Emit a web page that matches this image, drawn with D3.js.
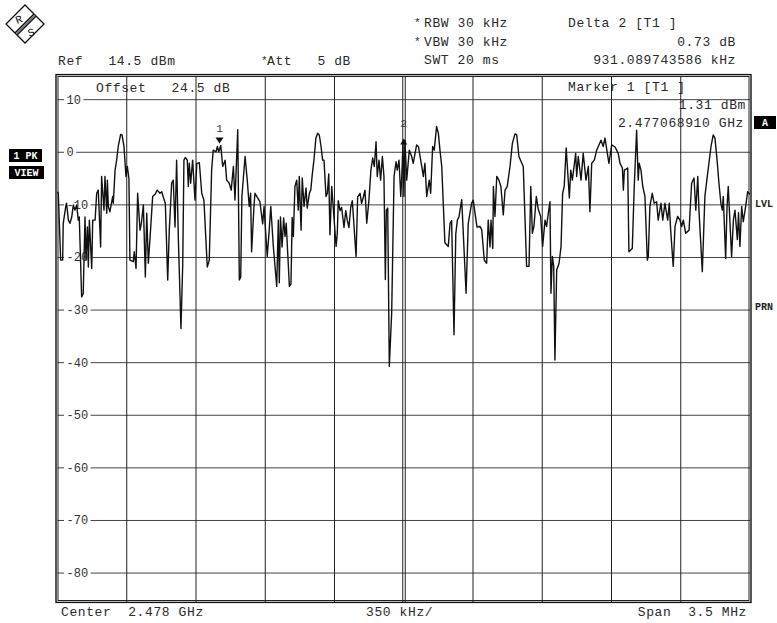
<!DOCTYPE html>
<html><head><meta charset="utf-8">
<script src="https://cdn.jsdelivr.net/npm/d3@7"></script>
<style>
html,body{margin:0;padding:0;background:#fff;}
svg text{font-family:"Liberation Mono","DejaVu Sans Mono",monospace;}
</style></head>
<body>
<svg id="c" width="777" height="623"></svg>
<script>
// ---- data (frequency offset from span start in kHz, level in dBm) ----
const centerGHz = 2.478;
const spanMHz = 3.5;
const refLevel = 14.5;
const yTicks = [10, 0, -10, -20, -30, -40, -50, -60, -70, -80];
const traceFreqKHz = [0,4,16,26,29,43,46,55,63,72,80,88,97,105,110,122,130,139,144,151,156,161,173,178,190,198,206,218,223,235,240,249,252,257,265,279,282,291,299,307,319,326,336,346,353,361,366,383,388,397,405,417,424,434,444,451,459,467,481,493,504,518,527,535,545,557,565,577,585,594,602,611,624,633,639,646,656,661,666,673,683,695,704,717,729,740,757,767,779,787,801,808,815,825,835,847,855,868,878,889,897,911,919,926,932,948,959,969,976,981,993,998,1007,1023,1037,1044,1060,1070,1078,1091,1108,1116,1121,1127,1135,1143,1150,1156,1172,1180,1186,1192,1200,1209,1217,1222,1231,1237,1246,1256,1262,1273,1280,1288,1296,1306,1315,1323,1332,1340,1347,1357,1364,1371,1377,1386,1408,1414,1419,1428,1436,1448,1457,1465,1473,1482,1490,1509,1517,1529,1537,1546,1554,1563,1574,1584,1593,1601,1610,1616,1625,1633,1642,1650,1657,1662,1669,1677,1689,1701,1711,1717,1726,1735,1740,1746,1751,1756,1765,1778,1790,1798,1815,1824,1841,1849,1857,1866,1879,1886,1896,1904,1916,1925,1933,1942,1958,1975,1984,1992,2004,2013,2021,2029,2043,2065,2076,2093,2101,2120,2135,2144,2157,2169,2177,2186,2191,2200,2203,2211,2220,2231,2241,2253,2262,2273,2287,2299,2312,2321,2332,2354,2371,2383,2392,2400,2408,2420,2430,2442,2452,2464,2472,2481,2489,2494,2501,2508,2514,2523,2535,2545,2553,2561,2571,2587,2594,2602,2619,2624,2632,2646,2657,2671,2683,2691,2700,2713,2725,2747,2758,2767,2787,2801,2818,2834,2843,2855,2860,2865,2882,2888,2905,2915,2927,2935,2940,2949,2958,2969,2981,2986,2994,3006,3016,3028,3036,3050,3059,3070,3084,3092,3099,3112,3121,3134,3146,3155,3163,3175,3192,3205,3217,3226,3236,3242,3259,3272,3286,3303,3314,3323,3335,3343,3353,3360,3365,3377,3384,3390,3407,3416,3424,3436,3442,3449,3458,3466,3478,3488,3500];
const traceLevelDBm = [-7.5,-7.8,-20.5,-20.5,-13.5,-10,-9.7,-12.9,-13.5,-12.3,-10,-11,-10,-12.9,-12.3,-27.5,-26.9,-12.3,-20.5,-14.2,-21.8,-12.9,-22.1,-12.9,-12.9,-7.8,-7.2,-18,-4.6,-11,-4.6,-11.6,-5.3,-10.3,-11.3,-8.4,-9.7,-3.4,-1.5,1.1,3.4,3.3,1.1,-4.6,-2.7,-5,-20.5,-20.8,-18.9,-22.1,-7.8,-14.8,-13.5,-10,-23.7,-11.6,-21.1,-16.7,-8.4,-8,-7.2,-7.8,-7.5,-8.6,-9.7,-24.3,-14.8,-5.9,-5.3,-14.2,-1.5,-16.7,-33.5,-21.1,-1.5,-1,-1.5,-6.5,-2.1,-5.9,-1.5,-9.1,-2.1,-2,-7.8,-9.1,-21.8,-20.5,-3.4,0.4,0.1,1.1,0.1,1.3,-2.7,-1.5,-5.3,-5.9,-7.2,-2.7,-9.1,4.3,-24.3,-23.7,-8.4,-0.8,-5.3,-10.3,-7.8,-18.9,-10.3,-7.8,-8.4,-9.4,-13.6,-10.3,-19.8,-14.8,-10.3,-18,-25.5,-12.9,-24.8,-12.3,-18,-12.5,-16,-13.5,-25.5,-25,-12.4,-16,-6.5,-5.3,-11,-4.6,-14.8,-4.9,-10.3,-6.8,-10.6,-7.8,-7.2,-4.1,-1.5,2.7,3.6,3.3,1.1,-1.5,-1.5,-8.4,-7.8,-4.1,-15.7,-6.5,-17.9,-15.5,-9.2,-11.1,-10.5,-14.3,-11.1,-13,-14.3,-10.5,-9.2,-19.8,-8.5,-7.8,-9.7,-8.5,-7.2,-13.5,-9.1,-3.4,-1.1,-2.7,2,-4.6,-1.5,-5.3,-0.8,-4.6,-24.2,-11,-10.6,-40.7,-30.5,-4.6,-1.8,-3.4,-1.5,-8.4,-4.6,1.7,-8.4,2.3,-5.3,0.4,-0.8,-2.1,1.4,1.1,-2.7,-4.6,-2.1,-8.4,-5.3,-7.8,1.1,0.4,4.9,3.6,0.4,-2.7,-17.2,-17.9,-13.5,-13,-34.7,-15.5,-12.9,-12.3,-9,-26.8,-13.5,-9.7,-9.1,-14.2,-14.1,-14.7,-20.5,-21.1,-12.9,-18,-12.9,-18.3,-6.5,-12.2,-4.6,-5.3,-6.5,-11.9,-7.2,-6.5,-2.7,1.7,3.5,3.3,-0.8,-2.7,-21.7,-21.7,-6.5,-15.4,-14.1,-8.4,-10.9,-12.2,-17.9,-12.9,-14.1,-11.5,-9.4,-26.8,-19.8,-21.7,-39.5,-22.4,-21.1,-17.9,-7.8,-6.5,0.8,-8.7,-3.4,-5.3,-0.2,-4.6,-0.8,-5.3,-0.2,-5.3,-2.7,-11.3,-2.1,-1.5,0.4,2.3,1.1,2.7,-2.1,1.4,1.0,-0.2,-2.1,-3,-7.2,-3.4,-3,-18.9,-18.3,-6.5,4.2,-5.3,-2.1,-3.4,-6.5,-8.4,-20.5,-19.8,-10.3,-7.8,-9.7,-9.4,-12.9,-9.7,-12.9,-9.7,-12.9,-9.7,-14.8,-21.7,-14.1,-12.2,-12.9,-14.1,-12.9,-15.4,-14.8,-5.9,-4.9,-11,-4.6,-11,-22.7,-8.4,-4,1.1,3.3,2.7,-2.1,-5.9,-9.7,-11,-8.4,-20.2,-10.3,-6.5,-19.8,-12.9,-11,-16.6,-11.5,-17.9,-10.3,-13.2,-10.3,-7.5,-8];
const markerFreqKHz = [818.91, 1749.999];
const markerLevelDBm = [1.31, 2.04];
const markerNames = ["1", "2"];

const svg = d3.select("#c");
const L = 57.5, R = 750, T = 76, B = 602;
const x = d3.scaleLinear().domain([0, spanMHz * 1000]).range([L, R]);
const y = d3.scaleLinear().domain([refLevel - 100, refLevel]).range([B, T]);

// Logo
const logo = svg.append("g").attr("transform", "translate(25,24)");
logo.append("path").attr("d", "M0,-19L19,0L0,19L-19,0Z").attr("fill", "#fff").attr("stroke", "#111").attr("stroke-width", 1.3);
logo.append("path").attr("d", "M-10,9L9,-10M-8,11L11,-8").attr("stroke", "#111").attr("stroke-width", 1.6);
logo.append("path").attr("d", "M-9,10L10,-9").attr("stroke", "#777").attr("stroke-width", 1.2);
logo.append("text").attr("x", -6).attr("y", -1).attr("font-size", 11).attr("text-anchor", "middle").attr("transform", "rotate(-20,-6,-4)").attr("fill", "#111").text("R");
logo.append("text").attr("x", 6).attr("y", 12).attr("font-size", 11).attr("text-anchor", "middle").attr("transform", "rotate(-20,6,8)").attr("fill", "#111").text("S");

// header texts
function txt(xp, yp, s, opts = {}) {
  return svg.append("text").attr("x", xp).attr("y", yp).attr("font-size", opts.size || 13)
    .attr("letter-spacing", opts.ls !== undefined ? opts.ls : 0.6)
    .attr("text-anchor", opts.anchor || "start").attr("fill", opts.fill || "#2a2a2a")
    .attr("font-weight", opts.weight || "normal").style("white-space", "pre").text(s);
}
function star(xp, yp) { txt(xp, yp, "*", { size: 11, ls: 0 }); }
txt(58, 65, "Ref   14.5 dBm");
star(261, 64); txt(267, 65, "Att   5 dB");
star(414, 26); txt(424, 27, "RBW 30 kHz");
star(414, 45); txt(424, 46, "VBW 30 kHz");
txt(424, 64, "SWT 20 ms");
txt(568, 27, "Delta 2 [T1 ]");
txt(736, 46, "0.73 dB", { anchor: "end" });
txt(736, 64, "931.089743586 kHz", { anchor: "end" });

// grid
const g = svg.append("g");
yTicks.forEach(v => {
  g.append("line").attr("x1", L).attr("x2", R).attr("y1", y(v)).attr("y2", y(v)).attr("stroke", "#444").attr("stroke-width", 1);
});
for (let i = 1; i < 10; i++) {
  const xv = x(i * 350);
  if (i === 5) {
    g.append("line").attr("x1", xv - 1).attr("x2", xv - 1).attr("y1", T).attr("y2", B).attr("stroke", "#222");
    g.append("line").attr("x1", xv + 1.5).attr("x2", xv + 1.5).attr("y1", T).attr("y2", B).attr("stroke", "#222");
  } else {
    g.append("line").attr("x1", xv).attr("x2", xv).attr("y1", T).attr("y2", B).attr("stroke", "#222");
  }
}
// y tick labels with white background
yTicks.forEach(v => {
  const s = v < 0 ? "-" + Math.abs(v) : String(v);
  const w = s.length * 7.2;
  g.append("rect").attr("x", 64).attr("y", y(v) - 5).attr("width", w + 5).attr("height", 10).attr("fill", "#fff");
  g.append("text").attr("x", 66.5).attr("y", y(v) + 4).attr("font-size", 12).attr("fill", "#333").text(s);
});
// in-plot texts
txt(96, 92, "Offset   24.5 dB");
txt(568, 91, "Marker 1 [T1 ]");
txt(746, 109, "1.31 dBm", { anchor: "end" });
txt(744, 127, "2.477068910 GHz", { anchor: "end" });

// borders
svg.append("rect").attr("x", 58).attr("y", 76.5).attr("width", 691).attr("height", 524).attr("fill", "none").attr("stroke", "#222").attr("stroke-width", 1);
svg.append("rect").attr("x", 56).attr("y", 74.6).attr("width", 695).attr("height", 527.8).attr("fill", "none").attr("stroke", "#111").attr("stroke-width", 1.4);

// trace
const pts = traceFreqKHz.map((f, i) => [f, traceLevelDBm[i]]);
const line = d3.line().x(d => x(d[0])).y(d => y(d[1]));
svg.append("path").datum(pts).attr("d", line).attr("fill", "none").attr("stroke", "#111").attr("stroke-width", 1.4).attr("stroke-linejoin", "round");

// markers
markerFreqKHz.forEach((f, i) => {
  const mx = x(f), my = y(markerLevelDBm[i]);
  if (i === 0) {
    svg.append("path").attr("d", `M${mx - 4},${my - 8}L${mx + 4},${my - 8}L${mx},${my - 2}Z`).attr("fill", "#111");
    svg.append("text").attr("x", mx).attr("y", my - 13).attr("font-size", 11).attr("text-anchor", "middle").attr("fill", "#333").text(markerNames[i]);
  } else {
    svg.append("path").attr("d", `M${mx - 3.5},${my + 3}L${mx + 3.5},${my + 3}L${mx},${my - 3}Z`).attr("fill", "#111");
    svg.append("text").attr("x", mx).attr("y", my - 15).attr("font-size", 11).attr("text-anchor", "middle").attr("fill", "#333").text(markerNames[i]);
  }
});

// side boxes
function box(bx, by, bw, bh, s) {
  svg.append("rect").attr("x", bx).attr("y", by).attr("width", bw).attr("height", bh).attr("fill", "#000");
  svg.append("text").attr("x", bx + bw / 2).attr("y", by + bh - 3.5).attr("font-size", 10).attr("font-weight", "bold")
    .attr("text-anchor", "middle").attr("fill", "#fff").style("white-space", "pre").text(s);
}
box(9, 149, 33, 13, "1 PK");
box(9, 166, 35, 13, "VIEW");
box(754, 116, 22, 13, "A");
svg.append("text").attr("x", 755).attr("y", 207).attr("font-size", 10).attr("font-weight", "bold").attr("fill", "#222").text("LVL");
svg.append("text").attr("x", 755).attr("y", 310).attr("font-size", 10).attr("font-weight", "bold").attr("fill", "#222").text("PRN");

// bottom texts
txt(61, 616, "Center  " + centerGHz.toFixed(3) + " GHz");
txt(366, 616, "350 kHz/");
txt(747, 616, "Span  " + spanMHz + " MHz", { anchor: "end" });
</script>
</body></html>
